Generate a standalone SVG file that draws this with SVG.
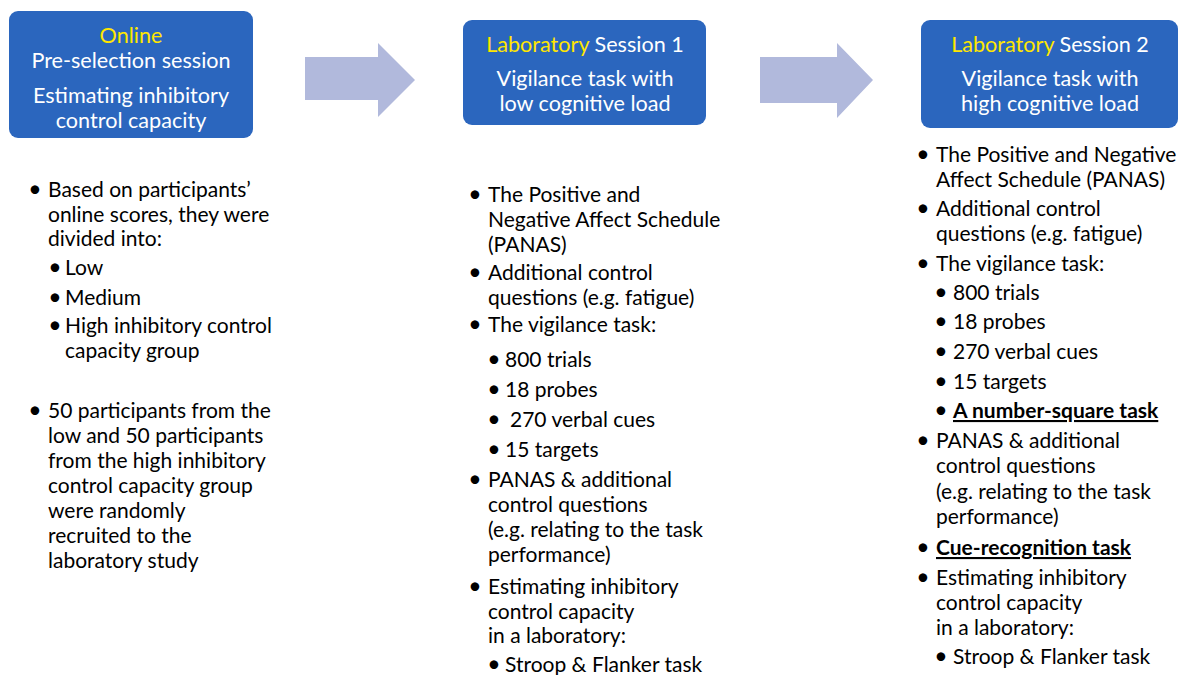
<svg xmlns="http://www.w3.org/2000/svg" width="1185" height="675" viewBox="0 0 1185 675">
<style>
.box{fill:#2b66be;}
.arrow{fill:#b1b9dc;}
.ht{font-family:Lato,"Liberation Sans",sans-serif;font-size:21.6px;fill:#ffffff;text-anchor:middle;}
.y{fill:#ffe600;}
.t{font-family:Lato,"Liberation Sans",sans-serif;font-size:21px;fill:#000000;}
.b{font-family:Lato,"Liberation Sans",sans-serif;font-size:23px;fill:#000000;text-anchor:middle;}
.u{font-weight:bold;text-decoration:underline;}
</style>
<rect width="1185" height="675" fill="#ffffff"/>
<g id="connectors">
<polygon class="arrow" points="305,57 378,57 378,43 415,80 378,117 378,100 305,100"/>
<polygon class="arrow" points="760,57 837,57 837,43 873,80 837,118 837,103 760,103"/>
</g>
<g id="online">
<rect class="box" x="9" y="11" width="244" height="127" rx="9"/>
<text class="ht y" x="131" y="43">Online</text>
<text class="ht" x="131" y="68">Pre-selection session</text>
<text class="ht" x="131" y="103">Estimating inhibitory</text>
<text class="ht" x="131" y="128">control capacity</text>
</g>
<g id="session1">
<rect class="box" x="463" y="20" width="243" height="105" rx="9"/>
<text class="ht" x="585" y="52"><tspan class="y">Laboratory</tspan> Session 1</text>
<text class="ht" x="585" y="86">Vigilance task with</text>
<text class="ht" x="585" y="111">low cognitive load</text>
</g>
<g id="session2">
<rect class="box" x="921" y="20" width="257" height="108" rx="9"/>
<text class="ht" x="1050" y="52"><tspan class="y">Laboratory</tspan> Session 2</text>
<text class="ht" x="1050" y="86">Vigilance task with</text>
<text class="ht" x="1050" y="111">high cognitive load</text>
</g>
<g id="online-list">
<text class="b" x="35" y="197">•</text>
<text class="t" x="48" y="197">Based on participants’</text>
<text class="t" x="48" y="222">online scores, they were</text>
<text class="t" x="48" y="246">divided into:</text>
<text class="b" x="55" y="275">•</text>
<text class="t" x="65" y="275">Low</text>
<text class="b" x="55" y="305">•</text>
<text class="t" x="65" y="305">Medium</text>
<text class="b" x="55" y="333">•</text>
<text class="t" x="65" y="333">High inhibitory control</text>
<text class="t" x="65" y="358">capacity group</text>
<text class="b" x="35" y="418">•</text>
<text class="t" x="48" y="418">50 participants from the</text>
<text class="t" x="48" y="443">low and 50 participants</text>
<text class="t" x="48" y="468">from the high inhibitory</text>
<text class="t" x="48" y="493">control capacity group</text>
<text class="t" x="48" y="518">were randomly</text>
<text class="t" x="48" y="543">recruited to the</text>
<text class="t" x="48" y="568">laboratory study</text>
</g>
<g id="session1-list">
<text class="b" x="475" y="202">•</text>
<text class="t" x="488" y="202">The Positive and</text>
<text class="t" x="488" y="227">Negative Affect Schedule</text>
<text class="t" x="488" y="252">(PANAS)</text>
<text class="b" x="475" y="280">•</text>
<text class="t" x="488" y="280">Additional control</text>
<text class="t" x="488" y="305">questions (e.g. fatigue)</text>
<text class="b" x="475" y="332">•</text>
<text class="t" x="488" y="332">The vigilance task:</text>
<text class="b" x="494" y="367">•</text>
<text class="t" x="505" y="367">800 trials</text>
<text class="b" x="494" y="397">•</text>
<text class="t" x="505" y="397">18 probes</text>
<text class="b" x="494" y="427">•</text>
<text class="t" x="510" y="427">270 verbal cues</text>
<text class="b" x="494" y="457">•</text>
<text class="t" x="505" y="457">15 targets</text>
<text class="b" x="475" y="487">•</text>
<text class="t" x="488" y="487">PANAS &amp; additional</text>
<text class="t" x="488" y="512">control questions</text>
<text class="t" x="488" y="537">(e.g. relating to the task</text>
<text class="t" x="488" y="562">performance)</text>
<text class="b" x="475" y="594">•</text>
<text class="t" x="488" y="594">Estimating inhibitory</text>
<text class="t" x="488" y="619">control capacity</text>
<text class="t" x="488" y="643">in a laboratory:</text>
<text class="b" x="494" y="672">•</text>
<text class="t" x="505" y="672">Stroop &amp; Flanker task</text>
</g>
<g id="session2-list">
<text class="b" x="923" y="162">•</text>
<text class="t" x="936" y="162">The Positive and Negative</text>
<text class="t" x="936" y="187">Affect Schedule (PANAS)</text>
<text class="b" x="923" y="216">•</text>
<text class="t" x="936" y="216">Additional control</text>
<text class="t" x="936" y="241">questions (e.g. fatigue)</text>
<text class="b" x="923" y="271">•</text>
<text class="t" x="936" y="271">The vigilance task:</text>
<text class="b" x="941" y="300">•</text>
<text class="t" x="953" y="300">800 trials</text>
<text class="b" x="941" y="329">•</text>
<text class="t" x="953" y="329">18 probes</text>
<text class="b" x="941" y="359">•</text>
<text class="t" x="953" y="359">270 verbal cues</text>
<text class="b" x="941" y="389">•</text>
<text class="t" x="953" y="389">15 targets</text>
<text class="b" x="941" y="418">•</text>
<text class="t u" x="953" y="418">A number-square task</text>
<text class="b" x="923" y="448">•</text>
<text class="t" x="936" y="448">PANAS &amp; additional</text>
<text class="t" x="936" y="473">control questions</text>
<text class="t" x="936" y="499">(e.g. relating to the task</text>
<text class="t" x="936" y="524">performance)</text>
<text class="b" x="923" y="555">•</text>
<text class="t u" x="936" y="555">Cue-recognition task</text>
<text class="b" x="923" y="585">•</text>
<text class="t" x="936" y="585">Estimating inhibitory</text>
<text class="t" x="936" y="610">control capacity</text>
<text class="t" x="936" y="635">in a laboratory:</text>
<text class="b" x="941" y="664">•</text>
<text class="t" x="953" y="664">Stroop &amp; Flanker task</text>
</g>
</svg>
